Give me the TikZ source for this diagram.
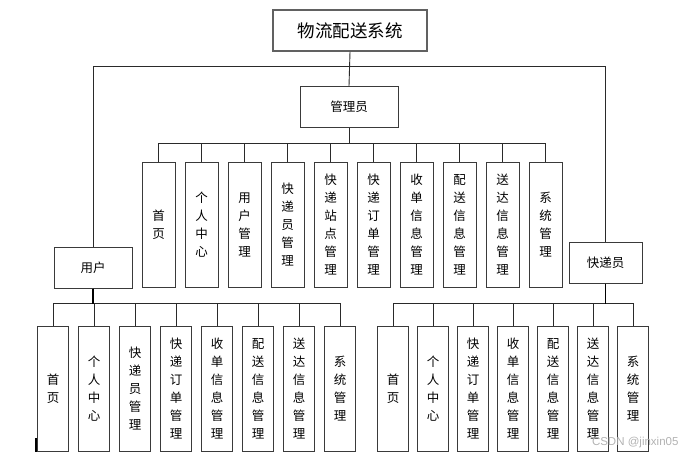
\documentclass[tikz,border=0pt]{standalone}
\usepackage{fontspec}
\setmainfont{Noto Sans CJK SC}
\newfontfamily\latinfont{Liberation Sans}
\usetikzlibrary{positioning}
\definecolor{boxline}{HTML}{3A3A3A}
\definecolor{linkline}{HTML}{2A2A2A}

\begin{document}
\begin{tikzpicture}[
    x=1pt, y=-1pt,
    every node/.style={font=\fontsize{12.5}{18}\selectfont},
    titlebox/.style={draw=boxline!80, line width=1.6pt, minimum width=154pt, minimum height=41pt, inner sep=0pt,
        font=\fontsize{17.5}{20}\selectfont},
    rolebox/.style={draw=boxline, line width=1pt, minimum height=41pt, inner sep=0pt},
    leafbox/.style={draw=boxline, line width=1pt, minimum height=125pt, inner sep=0pt, align=center},
    link/.style={draw=linkline, line width=0.9pt},
    trunk/.style={draw=black, line width=1.3pt}
]
\useasboundingbox (0,0) rectangle (696,459);

% NODES
\node[titlebox] (title) at (350, 30.5) {物流配送系统};
\node[rolebox, minimum width=98pt] (adm) at (349, 107) {管理员};
\node[rolebox, minimum width=78pt] (user) at (93, 267.5) {用户};
\node[rolebox, minimum width=73pt] (courier) at (605.5, 262.5) {快递员};

% admin modules
\foreach \txt [count=\i] in {{首\\页},{个\\人\\中\\心},{用\\户\\管\\理},{快\\递\\员\\管\\理},
    {快\\递\\站\\点\\管\\理},{快\\递\\订\\单\\管\\理},{收\\单\\信\\息\\管\\理},
    {配\\送\\信\\息\\管\\理},{送\\达\\信\\息\\管\\理},{系\\统\\管\\理}}
    \node[leafbox, minimum width=33pt] (a\i) at ({115.5+43*\i}, 224.5) {\txt};

% user modules
\foreach \txt [count=\i] in {{首\\页},{个\\人\\中\\心},{快\\递\\员\\管\\理},{快\\递\\订\\单\\管\\理},
    {收\\单\\信\\息\\管\\理},{配\\送\\信\\息\\管\\理},{送\\达\\信\\息\\管\\理},{系\\统\\管\\理}}
    \node[leafbox, minimum width=31pt] (u\i) at ({12+41*\i}, 388.5) {\txt};

% courier modules
\foreach \txt [count=\i] in {{首\\页},{个\\人\\中\\心},{快\\递\\订\\单\\管\\理},
    {收\\单\\信\\息\\管\\理},{配\\送\\信\\息\\管\\理},{送\\达\\信\\息\\管\\理},{系\\统\\管\\理}}
    \node[leafbox, minimum width=31pt] (c\i) at ({353+40*\i}, 388.5) {\txt};

\node[text=gray!60, font=\latinfont\fontsize{11.5}{14}\selectfont, anchor=east] (mark) at (682, 443) {CSDN @jinxin05};

% CONNECTORS
\draw[link] (title.south) -- (adm.north);
\draw[link] (user.north) -- ++(0,-180) -| (courier.north);

\foreach \i in {1,...,10}
    \draw[link] (adm.south) -- ++(0,15) -| (a\i.north);

\foreach \i in {1,...,8}
    \draw[link] (user.south) -- ++(0,15) -| (u\i.north);
\draw[trunk] (user.south) -- ++(0,15);

\foreach \i in {1,...,7}
    \draw[link] (courier.south) -- ++(0,20) -| (c\i.north);
\draw[trunk] (courier.south) -- ++(0,20);

\draw[line width=1.6pt] (36,438) -- (36,452);

\end{tikzpicture}
\end{document}
